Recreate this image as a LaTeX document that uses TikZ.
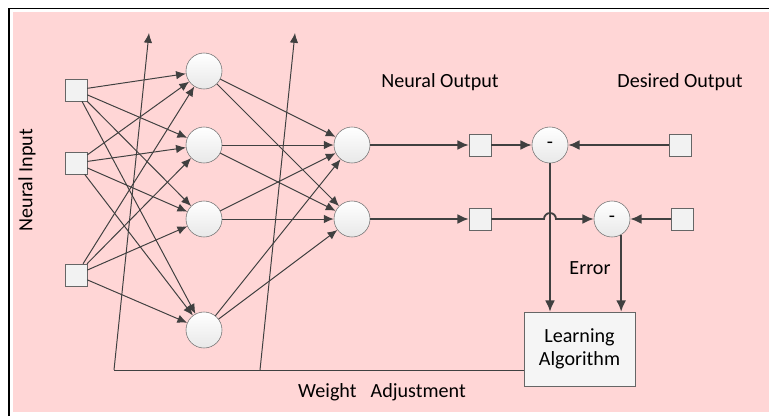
\documentclass[tikz,border=0pt]{standalone}
\usepackage{fontspec}
\setmainfont{Carlito}
\usepackage{xcolor}
\usepackage{tikz}
\usetikzlibrary{shapes, arrows.meta, positioning}
\definecolor{bgpink}{RGB}{255,214,214}
\definecolor{linegray}{RGB}{64,64,64}

\begin{document}
\begin{tikzpicture}[x=0.025cm, y=-0.025cm,
                font=\fontsize{14.3}{16}\selectfont,
                neuron/.style={draw=black!55, circle, minimum size=0.9cm, inner sep=0pt, top color=white, bottom color=black!9},
                port/.style={draw=black!60, rectangle, minimum size=0.55cm, inner sep=0pt, fill=black!5},
                link/.style={-{Latex[length=7pt, width=6pt]}, draw=linegray, line width=0.7pt},
                flow/.style={-{Latex[length=8pt, width=7pt]}, draw=linegray, line width=1.3pt}]
                \useasboundingbox (0,0) rectangle (769,416);
                \fill[bgpink] (13,12) rectangle (769,412);
                \draw[line width=1.2pt] (9,416) -- (9,8.5) -- (769,8.5);

                % input layer
                \node[port] (i1) at (76,90) {};
                \node[port] (i2) at (76,163) {};
                \node[port] (i3) at (76,275) {};
                \node[rotate=90] (lin) at (27,180) {Neural Input};

                % hidden layer
                \node[neuron] (h1) at (204,71) {};
                \node[neuron] (h2) at (204,145) {};
                \node[neuron] (h3) at (204,219) {};
                \node[neuron] (h4) at (204,330) {};

                % output layer
                \node[neuron] (o1) at (352,145) {};
                \node[neuron] (o2) at (352,219) {};
                \node[port] (y1) at (480,145) {};
                \node[port] (y2) at (480,219) {};
                \node (lout) at (440,82) {Neural Output};

                % desired output and error
                \node[neuron] (d1) at (550,145) {-};
                \node[neuron] (d2) at (612,219) {-};
                \node[port] (t1) at (680,145) {};
                \node[port] (t2) at (682,219) {};
                \node (ldes) at (680,82) {Desired Output};
                \node (lerr) at (590,268) {Error};
                \node[draw=black!60, rectangle, fill=black!4, minimum width=2.775cm, minimum height=1.85cm, align=center] (algo) at (579.5,349) {Learning\\Algorithm};
                \node (lwa) at (382,392) {Weight\hspace{0.7em}Adjustment};

                \coordinate (wa1) at (114,370);
                \coordinate (wa2) at (260,370);
                \coordinate (up1) at (149,33);
                \coordinate (up2) at (295,33);

                % input to hidden
                \draw[link] (i1) -- (h1);
                \draw[link] (i1) -- (h2);
                \draw[link] (i1) -- (h3);
                \draw[link] (i1) -- (h4);
                \draw[link] (i2) -- (h1);
                \draw[link] (i2) -- (h2);
                \draw[link] (i2) -- (h3);
                \draw[link] (i2) -- (h4);
                \draw[link] (i3) -- (h1);
                \draw[link] (i3) -- (h2);
                \draw[link] (i3) -- (h3);
                \draw[link] (i3) -- (h4);

                % hidden to output
                \draw[link] (h1) -- (o1);
                \draw[link] (h1) -- (o2);
                \draw[link] (h2) -- (o1);
                \draw[link] (h2) -- (o2);
                \draw[link] (h3) -- (o1);
                \draw[link] (h3) -- (o2);
                \draw[link] (h4) -- (o1);
                \draw[link] (h4) -- (o2);

                % weight adjustment
                \draw[draw=linegray, line width=0.7pt] (algo.west |- wa1) -- (wa1);
                \draw[link] (wa1) -- (up1);
                \draw[link] (wa2) -- (up2);

                % error path
                \draw[flow] (o1) -- (y1);
                \draw[flow] (o2) -- (y2);
                \draw[flow] (y1) -- (d1);
                \draw[flow] (t1) -- (d1);
                \draw[flow] (t2) -- (d2);
                \draw[flow] (y2) -- (544,219) arc[start angle=180, end angle=360, radius=6] -- (d2);
                \draw[flow] (d1) -- (d1 |- algo.north);
                \draw[flow] (d2.-60) -- (d2.-60 |- algo.north);
            \end{tikzpicture}
\end{document}
